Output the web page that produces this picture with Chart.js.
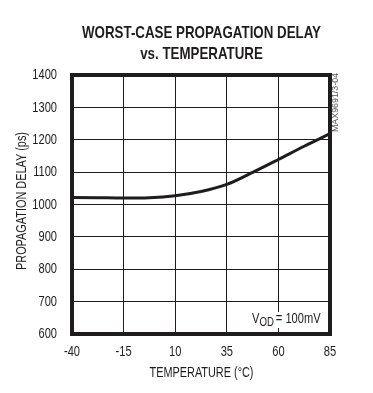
<!DOCTYPE html>
<html>
<head>
<meta charset="utf-8">
<script src="https://cdn.jsdelivr.net/npm/chart.js@4.4.0/dist/chart.umd.min.js"></script>
<style>
  html, body { margin: 0; padding: 0; background: #fff; }
  #wrap { width: 373px; height: 393px; }
</style>
</head>
<body>
<div id="wrap"><canvas id="chart" width="373" height="393"></canvas></div>
<script>
// Data
const temperatures = [-40, -27.5, -15, -2.5, 10, 22.5, 35, 47.5, 60, 72.5, 85];
const delayPs = [1022, 1021, 1020, 1021, 1027, 1040, 1062, 1099, 1139, 1180, 1219];
const xTicks = [-40, -15, 10, 35, 60, 85];
const yTicks = [600, 700, 800, 900, 1000, 1100, 1200, 1300, 1400];

const FONT = "'Liberation Sans', Arial, sans-serif";
const INK = '#1f1c1d';
const NARROW = 0.74;

// draw text squeezed horizontally (no narrow font installed)
function narrowText(ctx, text, x, y, font, opts = {}) {
    ctx.save();
    ctx.font = font;
    ctx.fillStyle = opts.color || INK;
    ctx.textBaseline = opts.baseline || 'middle';
    ctx.textAlign = 'left';
    const w = ctx.measureText(text).width;
    const sx = opts.width ? opts.width / w : (opts.sx || NARROW);
    const drawn = w * sx;
    let left = x;
    if (opts.align === 'center') left = x - drawn / 2;
    else if (opts.align === 'right') left = x - drawn;
    ctx.translate(left, y);
    ctx.scale(sx, 1);
    ctx.fillText(text, 0, 0);
    ctx.restore();
    return drawn;
}

const decorations = {
    id: 'decorations',
    afterDraw(chart) {
        const ctx = chart.ctx;
        const a = chart.chartArea;
        const xs = chart.scales.x;
        const ys = chart.scales.y;

        // V_OD note, white box hides grid behind it
        ctx.save();
        ctx.fillStyle = '#fff';
        ctx.fillRect(249, 312, 76, 16);
        ctx.restore();
        let nx = 252;
        nx += narrowText(ctx, 'V', nx, 323, '15px ' + FONT, { baseline: 'alphabetic' });
        nx += narrowText(ctx, 'OD', nx, 326, '13px ' + FONT, { baseline: 'alphabetic' }) + 2;
        narrowText(ctx, '= 100mV', nx, 323, '15px ' + FONT, { baseline: 'alphabetic' });

        // thick plot frame
        ctx.save();
        ctx.strokeStyle = INK;
        ctx.lineWidth = 4;
        ctx.strokeRect(a.left, a.top, a.right - a.left, a.bottom - a.top);
        ctx.restore();

        // tick labels
        xs.ticks.forEach(t => {
            narrowText(ctx, String(t.value), xs.getPixelForValue(t.value), 352, '15px ' + FONT, { align: 'center' });
        });
        ys.ticks.forEach(t => {
            narrowText(ctx, String(t.value), 57, ys.getPixelForValue(t.value), '15px ' + FONT, { align: 'right' });
        });

        // axis titles
        narrowText(ctx, 'TEMPERATURE (°C)', 201.5, 373, '15px ' + FONT, { align: 'center', width: 104 });
        ctx.save();
        ctx.translate(22, 201);
        ctx.rotate(-Math.PI / 2);
        narrowText(ctx, 'PROPAGATION DELAY (ps)', 0, 0, '15px ' + FONT, { align: 'center', width: 138 });
        ctx.restore();

        // title, both lines with the same squeeze
        const titleFont = 'bold 17px ' + FONT;
        ctx.save();
        ctx.font = titleFont;
        const titleSx = 239 / ctx.measureText('WORST-CASE PROPAGATION DELAY').width;
        ctx.restore();
        narrowText(ctx, 'WORST-CASE PROPAGATION DELAY', 201.5, 33, titleFont, { align: 'center', sx: titleSx });
        narrowText(ctx, 'vs. TEMPERATURE', 201.5, 54, titleFont, { align: 'center', sx: titleSx });

        // side part number
        ctx.save();
        ctx.translate(336, 73);
        ctx.rotate(-Math.PI / 2);
        narrowText(ctx, 'MAX9691/3-04', 0, 0, '9px ' + FONT, { align: 'right', width: 59, color: '#555' });
        ctx.restore();
    }
};

new Chart(document.getElementById('chart'), {
    type: 'line',
    data: {
        datasets: [{
            data: temperatures.map((t, i) => ({ x: t, y: delayPs[i] })),
            borderColor: INK,
            borderWidth: 3,
            pointRadius: 0,
            cubicInterpolationMode: 'monotone',
            fill: false
        }]
    },
    options: {
        responsive: false,
        animation: false,
        layout: { padding: { top: 75, right: 43, left: 0, bottom: 0 } },
        plugins: {
            legend: { display: false },
            tooltip: { enabled: false }
        },
        scales: {
            x: {
                type: 'linear',
                min: -40,
                max: 85,
                afterBuildTicks: s => { s.ticks = xTicks.map(v => ({ value: v })); },
                afterFit: s => { s.height = 59; },
                grid: { color: INK, lineWidth: 1, drawTicks: false },
                border: { display: false },
                ticks: { display: false }
            },
            y: {
                min: 600,
                max: 1400,
                afterBuildTicks: s => { s.ticks = yTicks.map(v => ({ value: v })); },
                afterFit: s => { s.width = 72; },
                grid: { color: INK, lineWidth: 1, drawTicks: false },
                border: { display: false },
                ticks: { display: false }
            }
        }
    },
    plugins: [decorations]
});
</script>
</body>
</html>
